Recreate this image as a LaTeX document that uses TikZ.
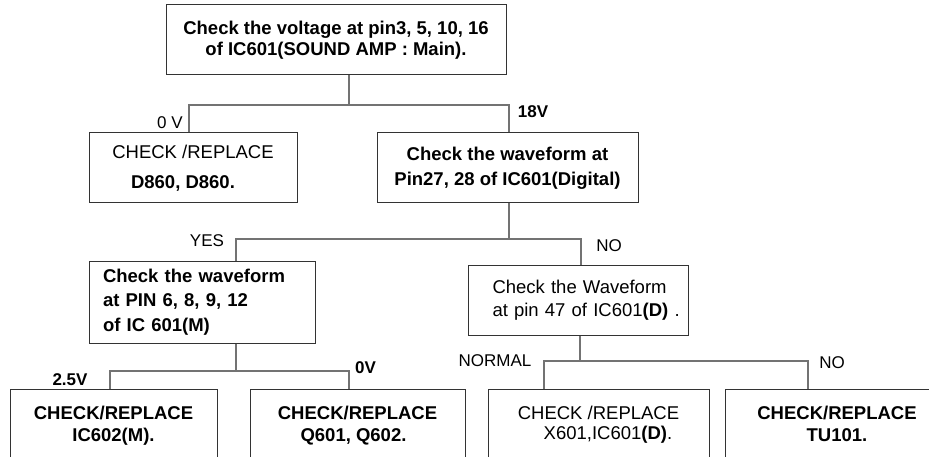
\documentclass[tikz,border=0pt]{standalone}
\usepackage{fontspec}
\setmainfont{Liberation Sans}
\usetikzlibrary{calc}
\begin{document}
\begin{tikzpicture}[x=1pt,y=-1pt,
  box/.style={draw=black!80, line width=1pt, inner sep=0pt, align=center,
    font=\fontsize{18.5}{21}\selectfont, text=black},
  lbox/.style={box, align=left},
  botbox/.style={box, anchor=north, inner ysep=17pt},
  lbl/.style={inner sep=0pt, font=\fontsize{17}{20}\selectfont, text=black},
  conn/.style={draw=black!55, line width=1.3pt}]
\useasboundingbox (0,0) rectangle (929,457);
\clip (0,0) rectangle (929,457);

% boxes
\node[box, minimum width=340, minimum height=70] (top) at (336,40)
  {\bfseries Check the voltage at pin3, 5, 10, 16\\\bfseries of IC601(SOUND AMP : Main).};
\node[box, minimum width=208, minimum height=70] (d860) at (193,168)
  {CHECK /REPLACE\\[9pt]\bfseries D860, D860.\hspace*{20pt}};
\node[box, minimum width=261, minimum height=70] (pin27) at (507.5,168)
  {\bfseries Check the waveform at\\[4pt]\bfseries Pin27, 28 of IC601(Digital)};
\node[lbox, minimum width=226, minimum height=82, text width=198pt] (pin6) at (202,302)
  {\bfseries Check the waveform\\[3.5pt]\bfseries at PIN 6, 8, 9, 12\\[3.5pt]\bfseries of IC 601(M)};
\node[lbox, minimum width=220, minimum height=70, text width=206pt] (pin47) at (578.5,300)
  {\hspace*{17pt}Check the Waveform\\[2pt]\hspace*{17pt}at pin 47 of IC601\textbf{(D)}~.};

\node[botbox, minimum width=207] (ic602) at (113.5,389)
  {\bfseries CHECK/REPLACE\\[1pt]\bfseries IC602(M).\rule[-40pt]{0pt}{40pt}};
\node[botbox, minimum width=215] (q601) at (357.5,389)
  {\bfseries CHECK/REPLACE\\[1pt]\bfseries Q601, Q602.\hspace*{8pt}\rule[-40pt]{0pt}{40pt}};
\node[botbox, minimum width=221] (x601) at (598.5,389)
  {CHECK /REPLACE\\[-1pt]\hspace*{19pt}X601,IC601\textbf{(D)}.\rule[-40pt]{0pt}{40pt}};
\node[botbox, minimum width=224] (tu101) at (837,389)
  {\bfseries CHECK/REPLACE\\[1pt]\bfseries TU101.\rule[-40pt]{0pt}{40pt}};

% junction coordinates
\coordinate (j0) at (349,105);
\coordinate (a1) at (189,105);
\coordinate (a2) at (509,105);
\coordinate (b1) at (236,239);
\coordinate (b2) at (581,239);
\coordinate (c0) at (236,371);
\coordinate (c1) at (110,371);
\coordinate (c2) at (349,371);
\coordinate (e0) at (580,361);
\coordinate (e1) at (544,361);
\coordinate (e2) at (808,361);

% connectors
\draw[conn] (top.south -| j0) -- (j0);
\draw[conn] (a1 |- d860.north) -- (a1) -- (a2) -- (a2 |- pin27.north);
\draw[conn] (pin27.south -| a2) -- (a2 |- b1);
\draw[conn] (b1 |- pin6.north) -- (b1) -- (b2) -- (b2 |- pin47.north);
\draw[conn] (pin6.south -| c0) -- (c0);
\draw[conn] (c1 |- ic602.north) -- (c1) -- (c2) -- (c2 |- q601.north);
\draw[conn] (pin47.south -| e0) -- (e0);
\draw[conn] (e1 |- x601.north) -- (e1) -- (e2) -- (e2 |- tu101.north);

% labels
\node[lbl] (l0v) at (170,122.5) {0 V};
\node[lbl, font=\fontsize{17}{20}\selectfont\bfseries] (l18v) at (533,112) {18V};
\node[lbl] (lyes) at (207,240.5) {YES};
\node[lbl] (lno1) at (609,245.5) {NO};
\node[lbl, font=\fontsize{17}{20}\selectfont\bfseries] (l25v) at (70,380) {2.5V};
\node[lbl, font=\fontsize{17}{20}\selectfont\bfseries] (l0v2) at (365.5,367.5) {0V};
\node[lbl] (lnormal) at (495,360.5) {NORMAL};
\node[lbl] (lno2) at (832,362.5) {NO};
\end{tikzpicture}
\end{document}
